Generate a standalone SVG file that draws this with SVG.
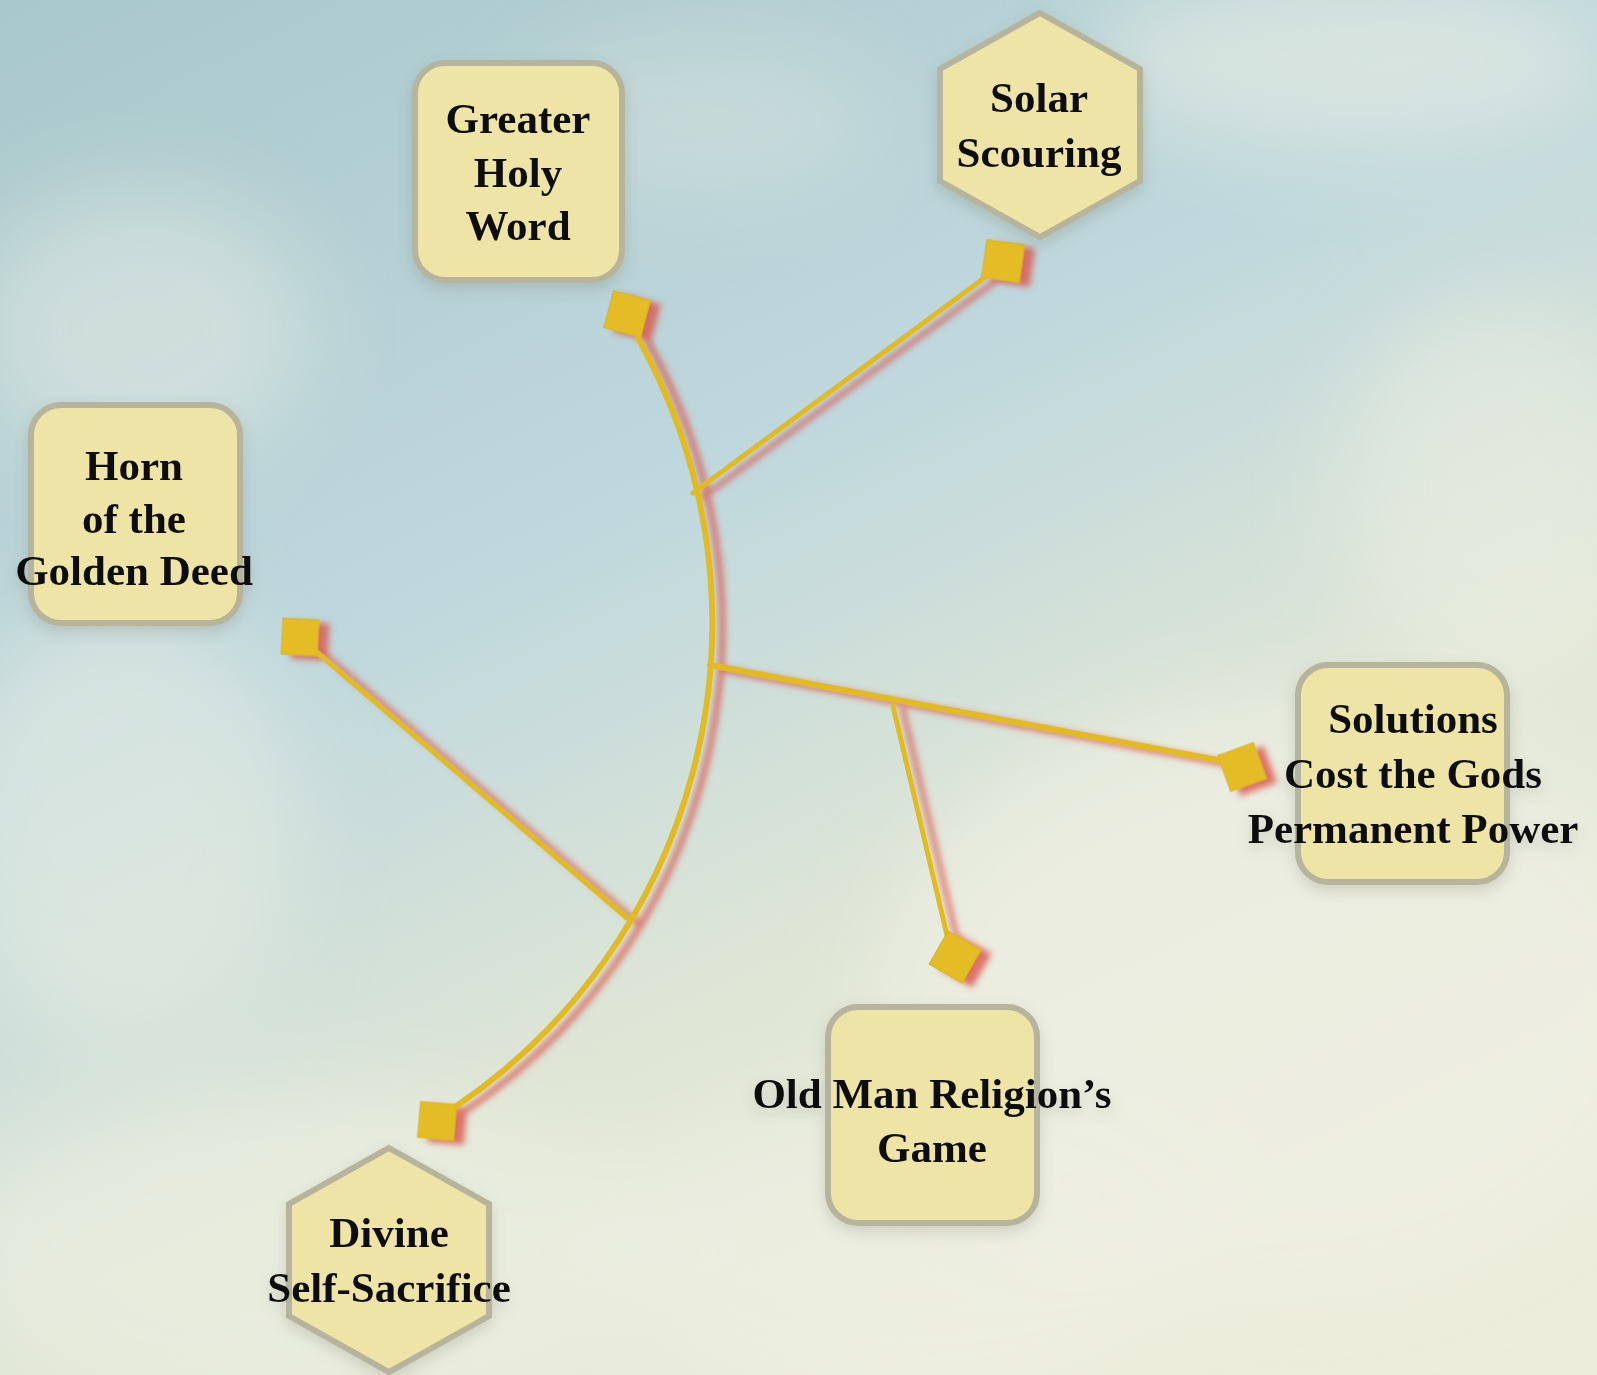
<svg xmlns="http://www.w3.org/2000/svg" width="1597" height="1375" viewBox="0 0 1597 1375">
  <defs>
    <linearGradient id="sky" x1="0" y1="0" x2="0.55" y2="1">
      <stop offset="0" stop-color="#a9c8cb"/>
      <stop offset="0.45" stop-color="#bfd8dd"/>
      <stop offset="0.75" stop-color="#dfe6d6"/>
      <stop offset="1" stop-color="#ecedda"/>
    </linearGradient>
    <filter id="cloud" x="-50%" y="-50%" width="200%" height="200%">
      <feGaussianBlur stdDeviation="45"/>
    </filter>
    <filter id="nodeShadow" x="-20%" y="-20%" width="140%" height="140%">
      <feDropShadow dx="0" dy="6" stdDeviation="7" flood-color="#6c6a55" flood-opacity="0.22"/>
    </filter>
    <filter id="wireShadow" x="-20%" y="-20%" width="140%" height="140%">
      <feDropShadow dx="10" dy="4" stdDeviation="3" flood-color="#d9544a" flood-opacity="0.8"/>
    </filter>
    <style>
      .node rect, .node polygon { fill: #eee4a6; stroke: #b7b49d; stroke-width: 6; }
      .node text { font-family: "Liberation Serif", "DejaVu Serif", serif; font-weight: bold; font-size: 43px; fill: #111; text-anchor: middle; }
      .wire { fill: none; stroke: #e2bb22; stroke-linecap: round; }
      .sq { fill: #e4bd25; stroke: #dcb51c; stroke-width: 1; }
    </style>
  </defs>

  <!-- background sky -->
  <rect width="1597" height="1375" fill="url(#sky)"/>
  <g filter="url(#cloud)" fill="#eef0e4">
    <ellipse cx="1350" cy="60" rx="260" ry="90" opacity="0.55"/>
    <ellipse cx="140" cy="330" rx="170" ry="140" opacity="0.45"/>
    <ellipse cx="120" cy="820" rx="180" ry="220" opacity="0.5"/>
    <ellipse cx="300" cy="1250" rx="360" ry="160" opacity="0.55"/>
    <ellipse cx="1280" cy="1000" rx="400" ry="300" opacity="0.7"/>
    <ellipse cx="1500" cy="500" rx="160" ry="200" opacity="0.5"/>
    <ellipse cx="900" cy="1250" rx="300" ry="150" opacity="0.6"/>
    <ellipse cx="700" cy="120" rx="180" ry="80" opacity="0.3"/>
  </g>

  <!-- connectors -->
  <g id="connectors" filter="url(#wireShadow)">
    <path class="wire" d="M 638 338 A 584 584 0 0 1 455 1107" stroke-width="6"/>
    <line class="wire" x1="693" y1="493" x2="995" y2="270" stroke-width="5"/>
    <line class="wire" x1="710" y1="665" x2="1228" y2="762" stroke-width="6"/>
    <line class="wire" x1="893" y1="706" x2="950" y2="948" stroke-width="5"/>
    <line class="wire" x1="627" y1="918" x2="305" y2="642" stroke-width="5"/>
    <rect class="sq" x="-19" y="-19" width="38" height="38" transform="translate(627 314) rotate(15)"/>
    <rect class="sq" x="-19" y="-19" width="38" height="38" transform="translate(1003 261) rotate(8)"/>
    <rect class="sq" x="-18" y="-18" width="36" height="36" transform="translate(300 637) rotate(3)"/>
    <rect class="sq" x="-19" y="-19" width="38" height="38" transform="translate(1242 767) rotate(-20)"/>
    <rect class="sq" x="-19" y="-19" width="38" height="38" transform="translate(955 957) rotate(30)"/>
    <rect class="sq" x="-18" y="-18" width="36" height="36" transform="translate(437 1121) rotate(5)"/>
  </g>

  <!-- nodes -->
  <g id="node-greater-holy-word" class="node" filter="url(#nodeShadow)">
    <rect x="415" y="63" width="207" height="217" rx="30"/>
    <text x="518" y="133">Greater</text>
    <text x="518" y="187">Holy</text>
    <text x="518" y="240">Word</text>
  </g>

  <g id="node-solar-scouring" class="node" filter="url(#nodeShadow)">
    <polygon points="1040,13 1140,69 1140,181 1040,237 940,181 940,69"/>
    <text x="1039" y="112">Solar</text>
    <text x="1039" y="167">Scouring</text>
  </g>

  <g id="node-horn" class="node" filter="url(#nodeShadow)">
    <rect x="31" y="405" width="209" height="218" rx="30"/>
    <text x="134" y="480">Horn</text>
    <text x="134" y="533">of the</text>
    <text x="134" y="585">Golden Deed</text>
  </g>

  <g id="node-solutions" class="node" filter="url(#nodeShadow)">
    <rect x="1298" y="665" width="209" height="217" rx="30"/>
    <text x="1413" y="733">Solutions</text>
    <text x="1413" y="788">Cost the Gods</text>
    <text x="1413" y="843">Permanent Power</text>
  </g>

  <g id="node-old-man" class="node" filter="url(#nodeShadow)">
    <rect x="828" y="1007" width="209" height="216" rx="30"/>
    <text x="932" y="1108">Old Man Religion’s</text>
    <text x="932" y="1162">Game</text>
  </g>

  <g id="node-divine" class="node" filter="url(#nodeShadow)">
    <polygon points="389,1148 489,1204 489,1316 389,1372 289,1316 289,1204"/>
    <text x="389" y="1247">Divine</text>
    <text x="389" y="1302">Self-Sacrifice</text>
  </g>
</svg>
